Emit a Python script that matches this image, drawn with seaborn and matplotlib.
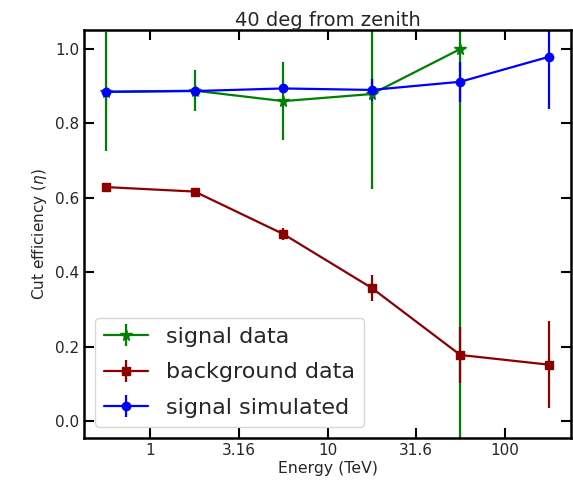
import matplotlib
matplotlib.use("Agg")
import matplotlib.pyplot as plt
import seaborn as sns
import numpy as np

# log10(Energy / TeV) bin centres
log_energy = [-0.25, 0.25, 0.75, 1.25, 1.75, 2.25]

signal_data = [0.885, 0.888, 0.860, 0.879, 1.000]
signal_data_err = [0.160, 0.055, 0.105, 0.254, 1.10]

background_data = [0.629, 0.617, 0.503, 0.358, 0.178, 0.152]
background_data_err = [0.007, 0.005, 0.015, 0.034, 0.074, 0.117]

signal_sim = [0.885, 0.887, 0.894, 0.890, 0.912, 0.979]
signal_sim_err = [0.004, 0.004, 0.006, 0.030, 0.054, 0.140]

tick_pos = [0, 0.5, 1, 1.5, 2]
tick_labels = ["1", "3.16", "10", "31.6", "100"]

sns.set_theme(style="ticks")
plt.rcParams['font.family'] = ['DejaVu Sans']

fig = plt.figure(figsize=(5.73, 4.84), dpi=100)
ax = fig.add_axes([84/573, 1 - 438/484, (571-84)/573, (438-30)/484])

ax.errorbar(log_energy[:len(signal_data)], signal_data, yerr=signal_data_err,
            color="green", marker="*", markersize=8.5, lw=1.6, elinewidth=1.6,
            label="signal data")
ax.errorbar(log_energy, background_data, yerr=background_data_err,
            color="darkred", marker="s", markersize=6, lw=1.6, elinewidth=1.6,
            label="background data")
ax.errorbar(log_energy, signal_sim, yerr=signal_sim_err,
            color="blue", marker="o", markersize=6, lw=1.6, elinewidth=1.6,
            label="signal simulated")

ax.set_xlim(-0.375, 2.375)
ax.set_ylim(-0.045, 1.051)
ax.set_xticks(tick_pos)
ax.set_xticklabels(tick_labels)
ax.set_yticks([0.0, 0.2, 0.4, 0.6, 0.8, 1.0])
ax.tick_params(direction="in", length=7, width=1.5, top=True, right=True,
               labelsize=11, colors="black", labelcolor="0.15")
for s in ax.spines.values():
    s.set_linewidth(1.8)
    s.set_color("black")

ax.set_xlabel("Energy (TeV)", fontsize=11.3, labelpad=2)
ax.set_ylabel(r"Cut efficiency ($\eta$)", fontsize=11)
ax.set_title("40 deg from zenith", fontsize=14, pad=3)
ax.legend(loc="lower left", fontsize=16, labelspacing=0.7)

fig.savefig("out.png", dpi=100)
